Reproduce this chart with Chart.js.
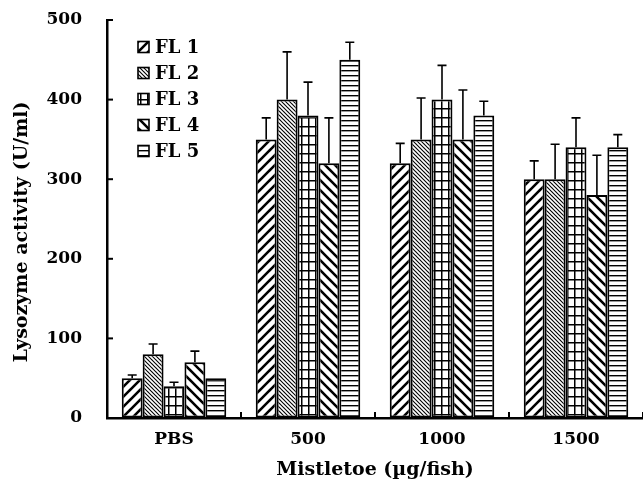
<!DOCTYPE html>
<html><head><meta charset="utf-8">
<script src="https://cdn.jsdelivr.net/npm/chart.js@4/dist/chart.umd.min.js"></script>
<style>html,body{margin:0;padding:0;background:#fff}</style>
</head><body>
<canvas id="c" width="643" height="489"></canvas>
<script>
const categories = ['PBS', '500', '1000', '1500'];
const seriesLabels = ['FL 1', 'FL 2', 'FL 3', 'FL 4', 'FL 5'];
const fl1 = [50, 350, 320, 300];
const fl2 = [80, 400, 350, 300];
const fl3 = [40, 380, 400, 340];
const fl4 = [70, 320, 350, 280];
const fl5 = [50, 450, 380, 340];
const fl1Err = [4, 27, 25, 23];
const fl2Err = [13, 60, 52, 44];
const fl3Err = [5, 42, 43, 37];
const fl4Err = [14, 57, 62, 50];
const fl5Err = [0, 22, 18, 16];
const yTickValues = [0, 100, 200, 300, 400, 500];
const xTitle = 'Mistletoe (\u00b5g/fish)';
const yTitle = 'Lysozyme activity (U/ml)';

const seriesValues = [fl1, fl2, fl3, fl4, fl5];
const seriesErrors = [fl1Err, fl2Err, fl3Err, fl4Err, fl5Err];

function makePattern(kind) {
  const c = document.createElement('canvas');
  const g = c.getContext('2d');
  function diag(s, lw, forward) {
    c.width = s; c.height = s;
    g.fillStyle = '#fff'; g.fillRect(0, 0, s, s);
    g.strokeStyle = '#000'; g.lineWidth = lw; g.lineCap = 'square';
    g.beginPath();
    for (let k = -1; k <= 1; k++) {
      if (forward) { g.moveTo(k * s, s); g.lineTo(k * s + s, 0); }
      else { g.moveTo(k * s, 0); g.lineTo(k * s + s, s); }
    }
    g.stroke();
  }
  if (kind === 'fwd') diag(10, 2.6, true);
  else if (kind === 'backThin') diag(4, 1.1, false);
  else if (kind === 'backThick') diag(10, 2.6, false);
  else if (kind === 'grid') {
    c.width = 7; c.height = 9;
    g.fillStyle = '#fff'; g.fillRect(0, 0, 7, 9);
    g.fillStyle = '#000';
    g.fillRect(0, 0, 1.5, 9);
    g.fillRect(0, 0, 7, 1.5);
  } else if (kind === 'horiz') {
    c.width = 4; c.height = 5;
    g.fillStyle = '#fff'; g.fillRect(0, 0, 4, 5);
    g.fillStyle = '#000'; g.fillRect(0, 0, 4, 1.4);
  }
  return document.getElementById('c').getContext('2d').createPattern(c, 'repeat');
}
const patternKinds = ['fwd', 'backThin', 'grid', 'backThick', 'horiz'];
const patterns = patternKinds.map(makePattern);

const FONT = '"DejaVu Serif", serif';

const decor = {
  id: 'decor',
  afterDatasetsDraw(chart) {
    const ctx = chart.ctx;
    const y = chart.scales.y, x = chart.scales.x;
    const area = chart.chartArea;
    ctx.save();
    ctx.strokeStyle = '#000';
    // error bars
    ctx.lineWidth = 1.6;
    chart.data.datasets.forEach((ds, i) => {
      const meta = chart.getDatasetMeta(i);
      meta.data.forEach((bar, j) => {
        const e = seriesErrors[i][j];
        if (!e) return;
        const top = y.getPixelForValue(ds.data[j] + e);
        ctx.beginPath();
        ctx.moveTo(bar.x, bar.y);
        ctx.lineTo(bar.x, top);
        ctx.moveTo(bar.x - 4.5, top);
        ctx.lineTo(bar.x + 4.5, top);
        ctx.stroke();
      });
    });
    // inward y ticks
    ctx.lineWidth = 2;
    yTickValues.forEach(v => {
      if (v === 0) return;
      const py = y.getPixelForValue(v);
      ctx.beginPath();
      ctx.moveTo(area.left, py);
      ctx.lineTo(area.left + 6, py);
      ctx.stroke();
    });
    // inward x ticks at category boundaries
    for (let k = 0; k < categories.length; k++) {
      const px = x.getPixelForValue(k + 0.5);
      ctx.beginPath();
      ctx.moveTo(px, area.bottom);
      ctx.lineTo(px, area.bottom - 6);
      ctx.stroke();
    }
    // y axis title
    ctx.fillStyle = '#000';
    ctx.font = 'bold 19px ' + FONT;
    ctx.textAlign = 'center';
    ctx.textBaseline = 'middle';
    ctx.save();
    ctx.translate(22, 232);
    ctx.rotate(-Math.PI / 2);
    ctx.fillText(yTitle, 0, 0);
    ctx.restore();
    // legend
    ctx.font = 'bold 18px ' + FONT;
    ctx.textBaseline = 'middle';
    ctx.textAlign = 'left';
    chart.data.datasets.forEach((ds, i) => {
      const cy = 47 + i * 26;
      const bx = 138, bs = 11;
      ctx.fillStyle = ds.backgroundColor;
      ctx.fillRect(bx, cy - bs / 2, bs, bs);
      ctx.lineWidth = 1.6;
      ctx.strokeRect(bx, cy - bs / 2, bs, bs);
      ctx.fillStyle = '#000';
      ctx.fillText(ds.label, 155, cy + 1);
    });
    ctx.restore();
  }
};

new Chart(document.getElementById('c'), {
  type: 'bar',
  data: {
    labels: categories,
    datasets: seriesLabels.map((lab, i) => ({
      label: lab,
      data: seriesValues[i],
      backgroundColor: patterns[i],
      borderColor: '#000',
      borderWidth: 2,
      borderSkipped: false,
      barPercentage: 1.0,
      categoryPercentage: 0.78
    }))
  },
  options: {
    responsive: false,
    devicePixelRatio: 1,
    animation: false,
    layout: { padding: { top: 20, right: 0, left: 0, bottom: 0 } },
    plugins: { legend: { display: false }, tooltip: { enabled: false } },
    scales: {
      x: {
        offset: true,
        grid: { display: false, drawTicks: false },
        border: { display: true, color: '#000', width: 2.5 },
        ticks: { color: '#000', font: { family: FONT, size: 17, weight: 'bold' }, padding: 11 },
        title: { display: true, text: xTitle, color: '#000', font: { family: FONT, size: 19, weight: 'bold' }, padding: { top: 0, bottom: 8 } },
        afterFit(s) { s.height = 71; }
      },
      y: {
        min: 0, max: 500,
        afterBuildTicks(s) { s.ticks = yTickValues.map(v => ({ value: v })); },
        grid: { display: true, drawOnChartArea: false, drawTicks: true, tickLength: 25, color: 'rgba(0,0,0,0)' },
        border: { display: true, color: '#000', width: 2.5 },
        ticks: { color: '#000', font: { family: FONT, size: 17, weight: 'bold' }, padding: 0 },
        title: { display: false },
        afterFit(s) { s.width = 107; }
      }
    }
  },
  plugins: [decor]
});
</script>
</body></html>
